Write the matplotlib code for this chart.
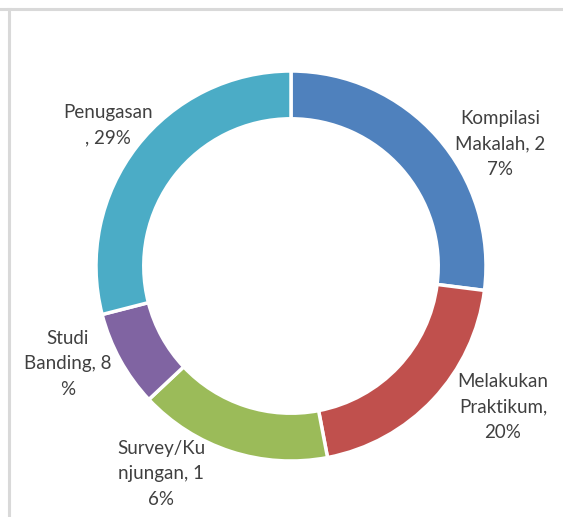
import matplotlib
matplotlib.use("Agg")
import matplotlib.pyplot as plt
from matplotlib.lines import Line2D

categories = ["Kompilasi Makalah", "Melakukan Praktikum", "Survey/Kunjungan", "Studi Banding", "Penugasan"]
values = [27, 20, 16, 8, 29]
label_texts = ["Kompilasi\nMakalah, 2\n7%", "Melakukan\nPraktikum,\n20%", "Survey/Ku\nnjungan, 1\n6%",
               "Studi\nBanding, 8\n%", "Penugasan\n, 29%"]
colors = ["#4F81BD", "#C0504D", "#9BBB59", "#8064A2", "#4BACC6"]

W, H = 563, 517
fig = plt.figure(figsize=(W / 100, H / 100), dpi=100)
fig.patch.set_facecolor("white")

# donut axes: center (291, 266) px, radius 195 px
cx, cy, r = 291, 266, 195
ax = fig.add_axes([(cx - r) / W, (H - cy - r) / H, 2 * r / W, 2 * r / H])
ax.pie(values, colors=colors, startangle=90, counterclock=False, radius=1.0,
       wedgeprops=dict(width=0.245, edgecolor="white", linewidth=2.5))
ax.set_xlim(-1, 1)
ax.set_ylim(-1, 1)
ax.set_aspect("equal")
ax.axis("off")

# label centres in pixel coordinates (from top-left)
label_pos = [(500, 144), (503, 407), (161, 474), (68, 364), (108, 125)]
for txt, (px, py) in zip(label_texts, label_pos):
    fig.text(px / W, 1 - py / H, txt, ha="center", va="center", fontsize=13.5,
             family="Lato", color="#404040", linespacing=1.6)

# frame lines
fig.add_artist(Line2D([0, 1], [1 - 9 / H, 1 - 9 / H], color="#d9d9d9", linewidth=2.2))
fig.add_artist(Line2D([9 / W, 9 / W], [0, 1 - 9 / H], color="#d9d9d9", linewidth=2.2))

fig.savefig("out.png", dpi=100, facecolor="white")
